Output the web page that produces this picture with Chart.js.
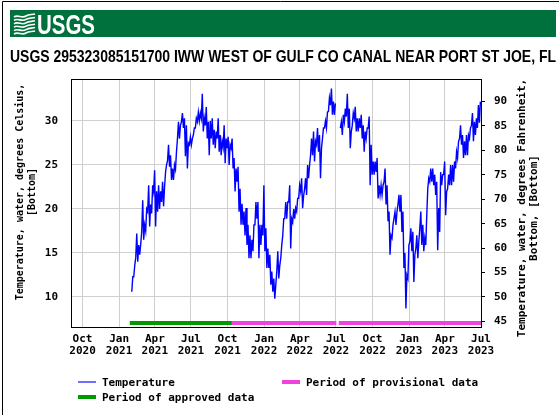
<!DOCTYPE html>
<html>
<head>
<meta charset="utf-8">
<title>USGS 295323085151700 water temperature</title>
<script src="https://cdn.jsdelivr.net/npm/chart.js@4.4.0/dist/chart.umd.min.js"></script>
<style>
    html, body { margin: 0; padding: 0; background: #fff; }
    #tempChart { display: block; }
</style>
</head>
<body>
<canvas id="tempChart" width="559" height="415"></canvas>
<script>
// Site and axis text
const siteTitle = 'USGS 295323085151700 IWW WEST OF GULF CO CANAL NEAR PORT ST JOE, FL';
const leftAxisTitle = ['Temperature, water, degrees Celsius,', '[Bottom]'];
const rightAxisTitle = ['Temperature, water, degrees Fahrenheit,', 'Bottom, [Bottom]'];

// Tick values
const xTickLabels = ['Oct 2020', 'Jan 2021', 'Apr 2021', 'Jul 2021', 'Oct 2021', 'Jan 2022',
    'Apr 2022', 'Jul 2022', 'Oct 2022', 'Jan 2023', 'Apr 2023', 'Jul 2023'];
const celsiusTicks = [10, 15, 20, 25, 30];
const fahrenheitTicks = [45, 50, 55, 60, 65, 70, 75, 80, 85, 90];

// Axis ranges
const dateRange = ['2020-09-02', '2023-07-01'];
const celsiusRange = [6.59, 34.77];

// Water temperature, deg C: daily low / high for each 5-day block starting at tempStart
// (null = no record)
const tempStart = '2021-02-02';
const tempStepDays = 5;
const tempLow = [
    10.6, 12.3, 14.5, 14.0, 14.8, 17.4, 16.5, 17.5, 19.7, 18.0, 19.5, 22.0, 18.0, 19.7, 20.0,
    20.8, 20.3, 24.2, 25.5, 24.8, 23.3, 23.3, 24.5, 28.0, 28.0, 29.9, 29.2, 26.0, 24.6, 27.3,
    27.3, 28.4, 29.2, 29.9, 30.0,
    30.3, 28.8, 29.5, 28.0, 26.1, 28.0, 27.3, 26.9, 28.0, 26.5, 26.1, 27.0, 25.2, 26.9, 25.0,
    26.9, 24.6, 22.0, 23.1, 19.7, 18.2, 18.2, 17.0, 15.9, 14.4, 14.4, 15.2, 18.2, 18.9, 14.4,
    15.9, 17.0, 15.2, 13.3, 13.3,
    11.4, 10.6, 9.8, 12.9, 12.1, 14.4, 17.0, 18.9, 18.9, 20.8, 15.5, 18.5, 18.9, 19.7, 21.2,
    22.0, 20.1, 22.3, 21.6, 23.5, 26.1, 26.1, 25.4, 27.3, 26.5, 23.5, 28.0, 29.2, 29.2, 31.1,
    31.8, 30.7, 30.7,
    null, null,
    29.2, 28.4, 29.9, 30.5, 29.2, 26.9, 29.5, 30.3, 28.8, 28.8, 29.2, 28.0, 26.5, 28.0, 29.2,
    22.7, 23.9, 23.9, 24.2, 21.2, 21.6, 21.6, 23.1, 20.5, 18.6, 14.8, 16.7, 18.2, 18.2, 20.5,
    19.7, 17.4, 13.3, 8.7, 12.1,
    16.3, 15.2, 11.7, 15.5, 14.4, 17.8, 15.9, 15.2, 15.9, 22.3, 23.1, 23.1, 22.7, 21.6, 15.3,
    17.4, 22.7, 23.9, 19.3, 22.3, 22.7, 22.7, 23.1, 24.6, 25.8, 28.0, 27.3, 25.8, 26.1, 26.1,
    28.0, 29.5, 27.7, 28.4, 29.2, 29.8
];
const tempHigh = [
    12.3, 13.6, 17.2, 15.9, 16.0, 21.0, 18.2, 20.0, 22.7, 20.5, 22.7, 24.4, 22.0, 22.7, 22.0,
    23.1, 22.5, 25.0, 27.3, 26.1, 24.6, 25.0, 26.5, 29.9, 29.5, 30.9, 30.3, 29.5, 27.5, 28.2,
    28.0, 29.2, 30.3, 31.0, 30.9,
    33.1, 30.3, 31.6, 29.9, 30.0, 30.3, 29.0, 28.8, 30.3, 28.4, 27.7, 29.5, 28.0, 28.2, 27.3,
    28.0, 25.8, 24.6, 24.8, 22.3, 20.6, 19.7, 20.1, 18.2, 17.0, 16.5, 18.2, 20.8, 20.8, 18.2,
    18.2, 22.7, 17.8, 15.5, 14.8,
    12.9, 12.1, 11.4, 15.2, 13.6, 15.9, 18.9, 20.8, 20.8, 22.7, 18.9, 20.0, 20.1, 21.2, 22.7,
    23.5, 21.5, 23.5, 25.0, 25.0, 28.0, 28.8, 27.7, 29.2, 28.4, 26.9, 29.2, 30.0, 31.0, 32.6,
    33.7, 32.2, 32.0,
    null, null,
    29.9, 30.7, 31.4, 33.1, 31.4, 28.8, 30.9, 31.6, 30.3, 30.3, 30.7, 29.5, 28.8, 29.2, 30.5,
    27.3, 25.4, 25.4, 25.8, 22.7, 22.7, 22.7, 24.6, 22.7, 19.7, 17.0, 18.2, 19.7, 19.7, 21.6,
    21.6, 19.7, 15.0, 12.5, 15.9,
    17.8, 17.4, 14.8, 17.0, 16.3, 19.7, 18.2, 16.7, 19.3, 23.5, 24.6, 24.6, 23.9, 23.1, 20.1,
    24.2, 23.9, 25.4, 22.0, 23.9, 25.0, 25.0, 25.4, 26.5, 27.7, 29.5, 28.4, 27.7, 28.4, 28.4,
    29.2, 30.9, 29.9, 30.3, 31.8, 32.2
];

// Data approval periods
const approvedPeriods = [['2021-01-28', '2021-10-12']];
const provisionalPeriods = [['2021-10-12', '2022-07-02'], ['2022-07-08', '2023-07-01']];

// ---------------------------------------------------------------------------

const MONTHS = ['Jan', 'Feb', 'Mar', 'Apr', 'May', 'Jun', 'Jul', 'Aug', 'Sep', 'Oct', 'Nov', 'Dec'];
const DAY_MS = 86400000;

// dates are handled as whole days since 1970-01-01 (UTC) on a linear axis
function toDay(iso) {
    return Date.parse(iso + 'T00:00:00Z') / DAY_MS;
}

function labelToDay(label) {
    const [mon, year] = label.split(' ');
    return Date.UTC(+year, MONTHS.indexOf(mon), 1) / DAY_MS;
}

const cToF = c => c * 9 / 5 + 32;

const xTickDays = xTickLabels.map(labelToDay);

// low then high inside each block, so the trace swings through the daily range
const tempPoints = tempLow.flatMap((lo, i) => {
    const d = toDay(tempStart) + i * tempStepDays;
    return [
        { x: d, y: lo },
        { x: d + tempStepDays / 2, y: tempHigh[i] }
    ];
});

// bars along the bottom of the plot showing approval status
const periodBarLevel = 7.05;
function periodPoints(periods) {
    return periods.flatMap(([a, b]) => [
        { x: toDay(a), y: periodBarLevel },
        { x: toDay(b), y: periodBarLevel },
        { x: toDay(b), y: null }
    ]);
}

const MONO = '"DejaVu Sans Mono", "Liberation Mono", monospace';
const colors = {
    temp: '#0000ff',
    tempLegend: '#6f6fff',
    approved: '#009900',
    provisional: '#ee44dd',
    grid: '#cfcfcf',
    header: '#00703c'
};

// Header, frame, axis titles and legend drawn straight onto the canvas
const pageDecor = {
    id: 'pageDecor',
    beforeDraw(chart) {
        const ctx = chart.ctx;
        ctx.save();
        ctx.fillStyle = '#fff';
        ctx.fillRect(0, 0, chart.width, chart.height);

        // page frame
        ctx.strokeStyle = '#000';
        ctx.lineWidth = 1;
        ctx.beginPath();
        ctx.moveTo(2.5, chart.height);
        ctx.lineTo(2.5, 1.5);
        ctx.lineTo(chart.width, 1.5);
        ctx.stroke();

        // green banner
        ctx.fillStyle = colors.header;
        ctx.fillRect(10, 10, 546, 27);

        // wave mark
        ctx.strokeStyle = '#fff';
        ctx.lineWidth = 1.6;
        for (let k = 0; k < 6; k++) {
            const y = 16 + k * 3.4;
            ctx.beginPath();
            ctx.moveTo(14, y + 1);
            ctx.bezierCurveTo(18, y - 2, 22, y + 3, 26, y);
            ctx.bezierCurveTo(29, y - 2, 32, y - 1, 35, y - 2);
            ctx.stroke();
        }

        ctx.fillStyle = '#fff';
        ctx.font = 'bold 28px "Liberation Sans Narrow", "Liberation Sans", sans-serif';
        ctx.textBaseline = 'alphabetic';
        ctx.fillText('USGS', 37, 34, 58);

        // station title
        ctx.fillStyle = '#000';
        ctx.font = 'bold 17px "Liberation Sans Narrow", "Liberation Sans", sans-serif';
        ctx.fillText(siteTitle, 10, 62, 546);
        ctx.restore();
    },
    afterDraw(chart) {
        const ctx = chart.ctx;
        const area = chart.chartArea;
        ctx.save();

        // top edge of the plot frame
        ctx.strokeStyle = '#000';
        ctx.lineWidth = 1;
        ctx.beginPath();
        ctx.moveTo(area.left, area.top + 0.5);
        ctx.lineTo(area.right, area.top + 0.5);
        ctx.stroke();

        // rotated axis titles
        ctx.fillStyle = '#000';
        ctx.textAlign = 'center';
        ctx.textBaseline = 'middle';
        const drawVertical = (lines, x0, cy, size) => {
            ctx.font = 'bold ' + size + 'px ' + MONO;
            lines.forEach((line, i) => {
                ctx.save();
                ctx.translate(x0 + i * 12, cy);
                ctx.rotate(-Math.PI / 2);
                ctx.fillText(line, 0, 0);
                ctx.restore();
            });
        };
        drawVertical(leftAxisTitle, 20, 192, 10);
        drawVertical(rightAxisTitle, 522, 208, 11);

        // legend
        const items = [
            { label: chart.data.datasets[0].label, color: colors.tempLegend, width: 2, x: 78, y: 382 },
            { label: chart.data.datasets[2].label, color: colors.provisional, width: 4, x: 282, y: 382 },
            { label: chart.data.datasets[1].label, color: colors.approved, width: 4, x: 78, y: 397 }
        ];
        ctx.textAlign = 'left';
        ctx.font = 'bold 11px ' + MONO;
        items.forEach(it => {
            ctx.strokeStyle = it.color;
            ctx.lineWidth = it.width;
            ctx.beginPath();
            ctx.moveTo(it.x, it.y);
            ctx.lineTo(it.x + 18, it.y);
            ctx.stroke();
            ctx.fillStyle = '#000';
            ctx.fillText(it.label, it.x + 24, it.y + 1);
        });
        ctx.restore();
    }
};

const tickFont = { family: MONO, size: 11, weight: 'bold', lineHeight: 1.1 };

new Chart(document.getElementById('tempChart'), {
    type: 'line',
    data: {
        datasets: [
            {
                label: 'Temperature',
                data: tempPoints,
                borderColor: colors.temp,
                borderWidth: 1.4,
                spanGaps: false
            },
            {
                label: 'Period of approved data',
                data: periodPoints(approvedPeriods),
                borderColor: colors.approved,
                borderWidth: 4,
                borderCapStyle: 'butt',
                spanGaps: false
            },
            {
                label: 'Period of provisional data',
                data: periodPoints(provisionalPeriods),
                borderColor: colors.provisional,
                borderWidth: 4,
                borderCapStyle: 'butt',
                spanGaps: false
            }
        ]
    },
    options: {
        responsive: false,
        devicePixelRatio: 1,
        animation: false,
        parsing: false,
        normalized: true,
        layout: { padding: { top: 79, left: 0, right: 0, bottom: 0 } },
        elements: {
            point: { radius: 0 },
            line: { tension: 0 }
        },
        plugins: {
            legend: { display: false },
            tooltip: { enabled: false }
        },
        scales: {
            x: {
                type: 'linear',
                min: toDay(dateRange[0]),
                max: toDay(dateRange[1]),
                afterFit: s => { s.height = 88; },
                afterBuildTicks: s => { s.ticks = xTickDays.map(v => ({ value: v })); },
                ticks: {
                    autoSkip: false,
                    maxRotation: 0,
                    padding: 6,
                    color: '#000',
                    font: tickFont,
                    callback: v => {
                        const idx = xTickDays.indexOf(v);
                        return idx < 0 ? '' : xTickLabels[idx].split(' ');
                    }
                },
                grid: { color: colors.grid, drawTicks: false },
                border: { color: '#000' }
            },
            y: {
                position: 'left',
                min: celsiusRange[0],
                max: celsiusRange[1],
                afterFit: s => { s.width = 71; },
                afterBuildTicks: s => { s.ticks = celsiusTicks.map(v => ({ value: v })); },
                ticks: { padding: 13, color: '#000', font: tickFont },
                grid: { color: colors.grid, drawTicks: false },
                border: { color: '#000' }
            },
            y2: {
                position: 'right',
                min: cToF(celsiusRange[0]),
                max: cToF(celsiusRange[1]),
                afterFit: s => { s.width = 78; },
                afterBuildTicks: s => { s.ticks = fahrenheitTicks.map(v => ({ value: v })); },
                ticks: { padding: 9, color: '#000', font: tickFont },
                grid: { drawOnChartArea: false, drawTicks: true, tickLength: 4, color: '#000' },
                border: { color: '#000' }
            }
        }
    },
    plugins: [pageDecor]
});
</script>
</body>
</html>
